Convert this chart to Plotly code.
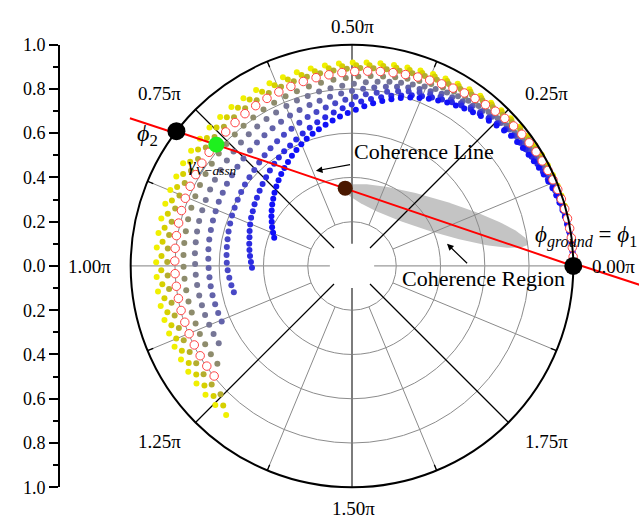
import numpy as np
import plotly.graph_objects as go

# ---------------------------------------------------------------------------
# Volume-coherence loci, one pair of lists per extinction level
# (phase in degrees, |gamma|), from the strongest extinction (outer) inwards.
# ---------------------------------------------------------------------------
theta_k1 = [0.0, 2.5, 5.0, 7.7, 10.3, 13.0, 15.8, 18.6, 21.4, 24.4, 27.3, 30.4, 33.4, 36.6, 39.7, 43.0,
            46.2, 49.6, 53.0, 56.4, 59.9, 63.5, 67.1, 70.7, 74.4, 78.2, 82.0, 85.9, 89.8, 93.7, 97.7,
            101.8, 105.9, 110.1, 114.3, 118.6, 122.9, 127.2, 131.5, 135.8, 140.1, 144.4, 148.7, 153.0,
            157.3, 161.6, 166.0, 170.3, 174.6, 178.9, 183.2, 187.5, 191.8, 196.1, 200.3, 204.5, 208.7,
            212.9, 217.1, 221.3, 225.5, 229.8]
r_k1 = [1.000, 1.000, 1.000, 1.000, 1.000, .999, .999, .998, .997, .996, .995, .994, .991, .987, .984, .979,
        .974, .969, .963, .958, .952, .947, .941, .936, .931, .928, .925, .922, .919, .917, .914, .912,
        .910, .908, .906, .905, .903, .901, .899, .898, .896, .894, .893, .891, .890, .889, .888, .887,
        .886, .885, .884, .884, .883, .882, .881, .881, .881, .881, .881, .881, .881, .881]

theta_k2 = [0.0, 2.5, 5.0, 7.6, 10.2, 12.9, 15.6, 18.4, 21.2, 24.1, 27.0, 30.1, 33.1, 36.2, 39.3, 42.5,
            45.8, 49.1, 52.4, 55.8, 59.3, 62.8, 66.4, 70.0, 73.6, 77.4, 81.1, 85.0, 88.8, 92.8, 96.7,
            100.8, 104.8, 109.0, 113.2, 117.3, 121.6, 125.8, 130.1, 134.4, 138.6, 142.9, 147.2, 151.4,
            155.7, 160.0, 164.2, 168.5, 172.7, 177.0, 181.3, 185.5, 189.8, 194.1, 198.2, 202.4, 206.5,
            210.7, 214.9, 219.0, 223.2, 227.3]
r_k2 = [1.000, 1.000, 1.000, .999, .999, .998, .998, .997, .996, .994, .992, .991, .988, .985, .982, .977,
        .971, .965, .958, .952, .945, .940, .934, .928, .923, .918, .914, .910, .907, .903, .900, .896,
        .893, .891, .888, .886, .883, .881, .878, .875, .874, .872, .870, .869, .867, .866, .865, .864,
        .863, .862, .862, .861, .860, .860, .859, .859, .859, .858, .858, .858, .858, .858]

theta_k3 = [0.0, 2.5, 4.9, 7.5, 10.1, 12.7, 15.4, 18.2, 20.9, 23.8, 26.7, 29.7, 32.6, 35.7, 38.8, 42.0,
            45.1, 48.4, 51.7, 55.1, 58.5, 62.0, 65.5, 69.0, 72.6, 76.3, 80.0, 83.8, 87.6, 91.5, 95.4,
            99.4, 103.4, 107.5, 111.6, 115.7, 119.9, 124.1, 128.4, 132.6, 136.8, 141.0, 145.2, 149.4,
            153.6, 157.8, 162.0, 166.2, 170.4, 174.6, 178.8, 183.0, 187.2, 191.5, 195.6, 199.7, 203.8,
            207.9, 212.0, 216.1, 220.2, 224.3]
r_k3 = [1.000, 1.000, 1.000, .999, .999, .998, .997, .996, .994, .992, .990, .987, .984, .980, .976, .971,
        .965, .959, .952, .945, .938, .931, .925, .919, .913, .908, .903, .899, .895, .891, .887, .883,
        .879, .875, .871, .867, .864, .861, .858, .855, .852, .850, .847, .845, .844, .842, .840, .839,
        .838, .836, .835, .834, .833, .832, .832, .831, .831, .830, .830, .830, .830, .830]

# the assumed-extinction locus, drawn as open circles
theta_k4 = [0.0, 2.4, 4.8, 7.3, 9.8, 12.4, 15.0, 17.7, 20.4, 23.2, 26.0, 28.9, 31.8, 34.8, 37.8, 40.9,
            44.0, 47.2, 50.4, 53.7, 57.0, 60.4, 63.8, 67.3, 70.8, 74.4, 78.0, 81.7, 85.4, 89.2, 93.0,
            96.9, 100.8, 104.8, 108.8, 112.8, 116.9, 121.0, 125.1, 129.2, 133.3, 137.4, 141.5, 145.6,
            149.7, 153.8, 157.9, 162.0, 166.1, 170.2, 174.3, 178.4, 182.5, 186.6, 190.6, 194.6, 198.6,
            202.6, 206.6, 210.6, 214.6, 218.6]
r_k4 = [1.000, 1.000, .999, .999, .998, .997, .995, .993, .992, .988, .985, .982, .979, .975, .971, .966,
        .960, .953, .946, .939, .932, .924, .917, .910, .904, .898, .893, .888, .883, .879, .875, .870,
        .866, .862, .857, .853, .849, .845, .841, .836, .832, .828, .825, .822, .818, .815, .813, .810,
        .807, .805, .803, .801, .800, .799, .798, .798, .797, .797, .797, .797, .797, .797]

theta_k5 = [0.0, 2.4, 4.7, 7.2, 9.7, 12.3, 14.8, 17.5, 20.2, 22.9, 25.7, 28.6, 31.4, 34.4, 37.3, 40.4,
            43.5, 46.6, 49.8, 53.1, 56.3, 59.7, 63.0, 66.5, 70.0, 73.5, 77.1, 80.7, 84.4, 88.1, 91.9,
            95.7, 99.6, 103.5, 107.5, 111.4, 115.5, 119.5, 123.6, 127.7, 131.7, 135.8, 139.8, 143.9,
            147.9, 152.0, 156.0, 160.1, 164.1, 168.2, 172.2, 176.3, 180.3, 184.4, 188.3, 192.3, 196.2,
            200.2, 204.1, 208.1, 212.0, 216.0]
r_k5 = [1.000, 1.000, .999, .998, .997, .995, .993, .990, .988, .984, .981, .977, .973, .968, .963, .957,
        .950, .943, .936, .929, .921, .913, .905, .897, .889, .882, .875, .868, .862, .856, .850, .845,
        .840, .834, .828, .823, .817, .812, .806, .801, .796, .791, .788, .784, .781, .778, .775, .772,
        .770, .767, .765, .763, .761, .759, .757, .756, .754, .753, .753, .752, .752, .752]

theta_k6 = [0.0, 2.3, 4.6, 7.0, 9.4, 11.9, 14.4, 17.0, 19.6, 22.3, 25.0, 27.8, 30.6, 33.4, 36.3, 39.3,
            42.3, 45.4, 48.4, 51.6, 54.8, 58.0, 61.3, 64.7, 68.0, 71.5, 75.0, 78.5, 82.1, 85.7, 89.4,
            93.1, 96.9, 100.7, 104.6, 108.4, 112.3, 116.3, 120.2, 124.2, 128.1, 132.0, 136.0, 139.9,
            143.9, 147.8, 151.7, 155.7, 159.6, 163.6, 167.5, 171.4, 175.4, 179.3, 183.2, 187.0, 190.9,
            194.7, 198.5, 202.4, 206.2, 210.1]
r_k6 = [1.000, 1.000, .999, .998, .996, .995, .992, .989, .986, .982, .978, .973, .968, .962, .957, .951,
        .944, .937, .930, .922, .913, .904, .894, .884, .875, .865, .857, .849, .840, .832, .823, .816,
        .809, .802, .794, .788, .781, .774, .768, .762, .756, .750, .744, .739, .735, .732, .728, .725,
        .722, .720, .717, .714, .712, .709, .707, .705, .703, .701, .700, .698, .697, .696]

theta_k7 = [0.0, 2.2, 4.5, 6.8, 9.1, 11.5, 13.9, 16.4, 19.0, 21.6, 24.2, 26.8, 29.5, 32.3, 35.1, 38.0,
            40.9, 43.8, 46.8, 49.9, 53.0, 56.1, 59.3, 62.5, 65.8, 69.1, 72.5, 75.9, 79.3, 82.9, 86.4,
            90.0, 93.6, 97.4, 101.1, 104.8, 108.6, 112.4, 116.2, 120.0, 123.8, 127.6, 131.5, 135.3,
            139.1, 142.9, 146.7, 150.5, 154.3, 158.1, 161.9, 165.7, 169.5, 173.4, 177.1, 180.8, 184.5,
            188.2, 191.9, 195.6, 199.4, 203.1]
r_k7 = [1.000, 1.000, .998, .997, .995, .993, .990, .987, .984, .980, .975, .970, .964, .958, .953, .947,
        .941, .933, .925, .916, .907, .897, .887, .877, .866, .856, .845, .835, .824, .813, .802, .790,
        .781, .771, .761, .752, .743, .735, .726, .718, .711, .704, .696, .690, .685, .680, .676, .671,
        .668, .664, .661, .658, .656, .653, .650, .648, .646, .645, .644, .642, .641, .640]

theta_k8 = [0.0, 2.1, 4.2, 6.4, 8.6, 10.9, 13.2, 15.6, 18.0, 20.4, 22.9, 25.5, 28.0, 30.7, 33.3, 36.0,
            38.8, 41.6, 44.4, 47.3, 50.2, 53.2, 56.2, 59.3, 62.4, 65.5, 68.7, 72.0, 75.2, 78.6, 81.9,
            85.4, 88.8, 92.3, 95.9, 99.4, 103.0, 106.6, 110.2, 113.8, 117.4, 121.0, 124.7, 128.3,
            131.9, 135.5, 139.1, 142.7, 146.3, 149.9, 153.6, 157.2, 160.8, 164.4, 167.9, 171.4, 175.0,
            178.5, 182.0, 185.5, 189.1, 192.6]
r_k8 = [1.000, 1.000, .998, .997, .995, .993, .990, .987, .983, .979, .974, .968, .962, .957, .951, .945,
        .940, .932, .924, .915, .906, .896, .885, .874, .863, .852, .841, .829, .816, .803, .791, .778,
        .765, .752, .739, .726, .714, .702, .689, .678, .668, .657, .647, .637, .628, .619, .613, .608,
        .602, .597, .592, .588, .583, .579, .575, .572, .569, .566, .562, .557, .552, .547]

theta_k9 = [0.0, 2.0, 4.0, 6.0, 8.1, 10.3, 12.4, 14.7, 16.9, 19.2, 21.5, 23.9, 26.3, 28.8, 31.3, 33.9,
            36.4, 39.1, 41.7, 44.5, 47.2, 50.0, 52.8, 55.7, 58.6, 61.6, 64.6, 67.6, 70.7, 73.9, 77.0,
            80.2, 83.5, 86.8, 90.1, 93.4, 96.8, 100.2, 103.6, 107.0, 110.4, 113.8, 117.2, 120.6, 124.0,
            127.3, 130.7, 134.1, 137.5, 140.9, 144.3, 147.7, 151.1, 154.5, 157.8, 161.1, 164.4, 167.8,
            171.1, 174.4, 177.7, 181.0]
r_k9 = [1.000, 1.000, .998, .997, .995, .993, .990, .986, .982, .978, .974, .968, .962, .956, .950, .945,
        .940, .934, .926, .917, .908, .898, .888, .878, .867, .855, .843, .830, .817, .802, .789, .774,
        .759, .744, .730, .714, .698, .683, .668, .653, .639, .625, .612, .602, .591, .580, .569, .558,
        .548, .538, .529, .521, .512, .505, .497, .489, .481, .475, .469, .463, .457, .452]

theta_k10 = [0.0, 1.8, 3.5, 5.3, 7.2, 9.1, 11.0, 13.0, 14.9, 17.0, 19.0, 21.2, 23.3, 25.5, 27.7, 29.9,
             32.2, 34.6, 36.9, 39.3, 41.7, 44.2, 46.7, 49.3, 51.8, 54.5, 57.1, 59.8, 62.5, 65.3, 68.1,
             70.9, 73.8, 76.7, 79.6, 82.6, 85.6, 88.6, 91.6, 94.6, 97.6, 100.6, 103.6, 106.6, 109.6,
             112.6, 115.6, 118.6, 121.6, 124.6, 127.6, 130.6, 133.6, 136.6, 139.5, 142.4, 145.4, 148.3,
             151.2, 154.2, 157.1, 160.0]
r_k10 = [1.000, 1.000, .999, .997, .995, .993, .990, .987, .984, .980, .977, .972, .966, .960, .954, .948,
         .943, .938, .933, .928, .920, .911, .902, .893, .884, .874, .864, .855, .843, .831, .818, .805,
         .790, .774, .758, .741, .724, .706, .691, .677, .663, .649, .636, .623, .610, .596, .581, .567,
         .552, .538, .524, .510, .496, .482, .468, .455, .441, .428, .414, .401, .387, .374]

loci_colors = ["#f0f000", "#d6d000", "#b4ad2e", "#ff4444", "#8e8c6c",
               "#767696", "#6262aa", "#4848c6", "#2a2ae2", "#1010f8"]

# Ground phases where the coherence line meets the unit circle, in degrees
phi1_deg = 0.0
phi2_deg = 142.5
# Volume-only coherence picked on the assumed locus, and the top observed coherence
gamma_v_assn = (0.822, 138.2)      # (|gamma|, phase deg)
gamma_top = (0.353, 95.0)

# Coherence region (ellipse in the complex plane, unit = |gamma| = 1)
region_center = (0.367, 0.226)
region_axes = (0.417, 0.074)
region_tilt_deg = -17.6

angle_ticks = [0, 45, 90, 135, 180, 225, 270, 315]
angle_labels = ["0.00π", "0.25π", "0.50π", "0.75π", "1.00π", "1.25π", "1.50π", "1.75π"]
mag_ticks = [-1.0, -0.8, -0.6, -0.4, -0.2, 0.0, 0.2, 0.4, 0.6, 0.8, 1.0]
mag_labels = ["1.0", "0.8", "0.6", "0.4", "0.2", "0.0", "0.2", "0.4", "0.6", "0.8", "1.0"]
mag_minor = [-0.9, -0.7, -0.5, -0.3, -0.1, 0.1, 0.3, 0.5, 0.7, 0.9]

# ---------------------------------------------------------------------------
# Page geometry
# ---------------------------------------------------------------------------
W, H = 639, 530
R_PX = 230            # radius of the polar disc in px
CX, CY = 352, 266     # centre of the disc, px from top-left
SERIF = "Liberation Serif"

dom_x = [(CX - R_PX) / W, (CX + R_PX) / W]
dom_y = [(H - CY - R_PX) / H, (H - CY + R_PX) / H]
# full-page cartesian overlay with 1 unit = disc radius, origin at the disc centre
x_rng = [-CX / R_PX, (W - CX) / R_PX]
y_rng = [-(H - CY) / R_PX, CY / R_PX]

# where each phase label sits, in overlay units (label centre)
angle_label_pos = {0: (1.135, -0.004), 45: (0.846, 0.780), 90: (0.004, 1.083), 135: (-0.835, 0.780),
                   180: (-1.141, -0.004), 225: (-0.839, -0.791), 270: (0.006, -1.096),
                   315: (0.846, -0.791)}

fig = go.Figure()

# coherence region
t = np.linspace(0, 2 * np.pi, 160)
ca, sa = np.cos(np.radians(region_tilt_deg)), np.sin(np.radians(region_tilt_deg))
ex = region_center[0] + region_axes[0] * np.cos(t) * ca - region_axes[1] * np.sin(t) * sa
ey = region_center[1] + region_axes[0] * np.cos(t) * sa + region_axes[1] * np.sin(t) * ca
fig.add_trace(go.Scatter(x=ex, y=ey, mode="lines", fill="toself", fillcolor="#c4c4c4",
                         line=dict(width=0), hoverinfo="skip", xaxis="x", yaxis="y"))

# coherence line: the parts running past the unit circle
p1 = np.array([np.cos(np.radians(phi1_deg)), np.sin(np.radians(phi1_deg))])
p2 = np.array([np.cos(np.radians(phi2_deg)), np.sin(np.radians(phi2_deg))])
chord = p1 - p2
left_end = p2 - 0.096 * chord
right_end = p1 + 0.15 * chord
fig.add_trace(go.Scatter(x=[left_end[0], p2[0], None, p1[0], right_end[0]],
                         y=[left_end[1], p2[1], None, p1[1], right_end[1]],
                         mode="lines", line=dict(color="#ff0000", width=2), hoverinfo="skip",
                         xaxis="x", yaxis="y", cliponaxis=False))

# carrier for the magnitude scale on the left
fig.add_trace(go.Scatter(x=[0], y=[0], mode="markers", marker=dict(opacity=0),
                         hoverinfo="skip", xaxis="x", yaxis="y2"))


def spokes(angles, r0, r1):
    rr, tt = [], []
    for a in angles:
        rr += [r0, r1, None]
        tt += [a, a, None]
    return rr, tt


def polar_lines(rr, tt, color, width):
    fig.add_trace(go.Scatterpolar(r=rr, theta=tt, mode="lines", line=dict(color=color, width=width),
                                  hoverinfo="skip", cliponaxis=False, subplot="polar"))


# angular grid
minor_angles = [22.5 + 45 * i for i in range(8)]
polar_lines(*spokes(minor_angles, 0.2, 1.0), "#8a8a8a", 1)
polar_lines(*spokes(minor_angles, 0.972, 1.0), "black", 1.3)
polar_lines(*spokes([0, 180], 0.1, 1.0), "#9a9a9a", 1.2)
polar_lines(*spokes([90, 270], 0.1, 1.0), "#7c7c7c", 2)
polar_lines(*spokes([45, 135, 225, 315], 0.115, 1.0), "black", 1.2)

# coherence loci
loci = [(theta_k1, r_k1), (theta_k2, r_k2), (theta_k3, r_k3), (theta_k4, r_k4), (theta_k5, r_k5),
        (theta_k6, r_k6), (theta_k7, r_k7), (theta_k8, r_k8), (theta_k9, r_k9), (theta_k10, r_k10)]
for i, ((th, rr), col) in enumerate(zip(loci, loci_colors)):
    if i == 3:
        continue
    fig.add_trace(go.Scatterpolar(r=rr, theta=th, mode="markers",
                                  marker=dict(size=6, color=col, line=dict(width=0)),
                                  hoverinfo="skip", cliponaxis=False, subplot="polar"))
fig.add_trace(go.Scatterpolar(r=r_k4, theta=theta_k4, mode="markers",
                              marker=dict(size=8.5, color="white", line=dict(width=1, color=loci_colors[3])),
                              hoverinfo="skip", cliponaxis=False, subplot="polar"))

# coherence line: chord inside the circle, drawn over the loci
fig.add_trace(go.Scatterpolar(r=[1.0, 1.0], theta=[phi2_deg, phi1_deg],
                              mode="lines", line=dict(color="#ff0000", width=2),
                              hoverinfo="skip", cliponaxis=False, subplot="polar"))

# key coherences
fig.add_trace(go.Scatterpolar(r=[gamma_top[0]], theta=[gamma_top[1]], mode="markers",
                              marker=dict(size=15, color="#4a1800"), hoverinfo="skip",
                              cliponaxis=False, subplot="polar"))
fig.add_trace(go.Scatterpolar(r=[gamma_v_assn[0]], theta=[gamma_v_assn[1]], mode="markers",
                              marker=dict(size=16, color="#1ef01e"), hoverinfo="skip",
                              cliponaxis=False, subplot="polar"))
fig.add_trace(go.Scatterpolar(r=[1.0, 1.0], theta=[phi1_deg, phi2_deg], mode="markers",
                              marker=dict(size=18, color="black"), hoverinfo="skip",
                              cliponaxis=False, subplot="polar"))

ann_font = dict(family=SERIF, size=22, color="black")
arrow = dict(showarrow=True, axref="x", ayref="y", arrowhead=2, arrowsize=1.1, arrowwidth=1.2,
             arrowcolor="black", standoff=0, startstandoff=2)
annotations = [
    dict(x=-0.157, y=0.430, ax=0.311, ay=0.517, text="Coherence Line", font=ann_font, **arrow),
    dict(x=0.413, y=0.100, ax=0.570, ay=-0.057, text="Coherence Region", font=ann_font, **arrow),
    dict(x=-0.943, y=0.590, text="<i>ϕ</i><sub>2</sub>", showarrow=False, xanchor="left",
         yanchor="middle", font=dict(family=SERIF, size=24, color="black")),
    dict(x=-0.720, y=0.450, text="<i>γ</i><sub><i>V−assn</i></sub>", showarrow=False, xanchor="left",
         yanchor="middle", font=dict(family=SERIF, size=19, color="black")),
    dict(x=0.785, y=0.135, text="<i>ϕ</i><sub><i>ground</i></sub> = <i>ϕ</i><sub>1</sub>",
         showarrow=False, xanchor="left", yanchor="middle", font=dict(family=SERIF, size=23, color="black")),
]
for ang, lab in zip(angle_ticks, angle_labels):
    lx, ly = angle_label_pos[ang]
    annotations.append(dict(x=lx, y=ly, text=lab, showarrow=False, xanchor="center", yanchor="middle",
                            font=dict(family=SERIF, size=19, color="black")))
for a in annotations:
    a.update(xref="x", yref="y")

fig.update_layout(
    width=W, height=H, autosize=False, margin=dict(l=0, r=0, t=0, b=0),
    paper_bgcolor="white", plot_bgcolor="rgba(0,0,0,0)", showlegend=False,
    font=dict(family=SERIF, color="black"),
    polar=dict(
        domain=dict(x=dom_x, y=dom_y), bgcolor="rgba(0,0,0,0)",
        radialaxis=dict(range=[0, 1], tickvals=[0.2, 0.4, 0.6, 0.8], showticklabels=False, ticks="",
                        showline=False, gridcolor="#8c8c8c", gridwidth=1),
        angularaxis=dict(rotation=0, direction="counterclockwise", tickvals=angle_ticks,
                         showticklabels=False, ticks="", showline=True, linecolor="black",
                         linewidth=2, showgrid=False),
    ),
    xaxis=dict(domain=[0, 1], range=x_rng, visible=False, fixedrange=True),
    yaxis=dict(domain=[0, 1], range=y_rng, visible=False, fixedrange=True),
    yaxis2=dict(domain=dom_y, range=[-1, 1], anchor="free", position=59 / W, side="left",
                tickvals=mag_ticks, ticktext=mag_labels, ticks="outside", ticklen=9, tickwidth=1.5,
                tickcolor="black", showline=True, linecolor="black", linewidth=2, showgrid=False,
                zeroline=False, fixedrange=True,
                tickfont=dict(family=SERIF, size=18, color="black"),
                minor=dict(tickvals=mag_minor, ticks="outside", ticklen=5, tickwidth=1.5,
                           tickcolor="black", showgrid=False)),
    annotations=annotations,
)

fig.write_html("out.html")
